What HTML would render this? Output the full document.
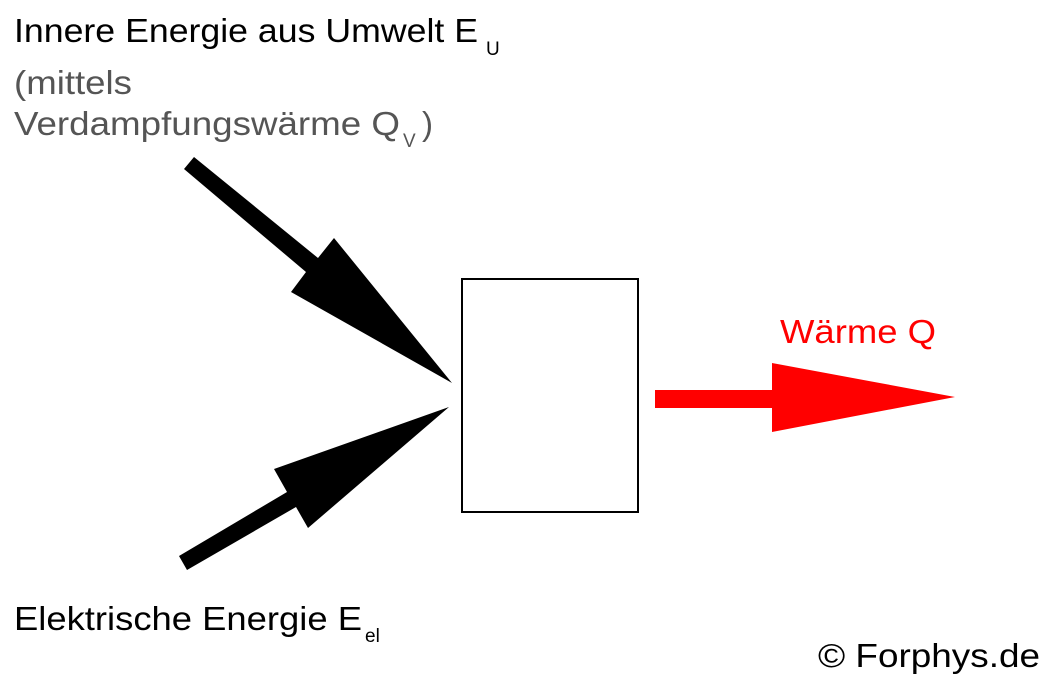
<!DOCTYPE html>
<html><head><meta charset="utf-8"><style>
html,body{margin:0;padding:0;background:#fff;}
body{width:1060px;height:694px;overflow:hidden;position:relative;font-family:"Liberation Sans",Arial,sans-serif;}
</style></head><body>
<svg width="1060" height="694" viewBox="0 0 1060 694" xmlns="http://www.w3.org/2000/svg" style="position:absolute;left:0;top:0">
<g font-family="Liberation Sans, Arial, sans-serif" font-size="33">
<text x="14" y="42" fill="#000" textLength="464" lengthAdjust="spacingAndGlyphs">Innere Energie aus Umwelt E</text>
<text x="486" y="55" fill="#000" font-size="19">U</text>
<text x="14" y="94" fill="#555" textLength="118" lengthAdjust="spacingAndGlyphs">(mittels</text>
<text x="14" y="135" fill="#555" textLength="386" lengthAdjust="spacingAndGlyphs">Verdampfungswärme Q</text>
<text x="403" y="147" fill="#555" font-size="19">V</text>
<text x="422" y="135" fill="#555">)</text>
<text x="780" y="343" fill="#ff0000" textLength="156" lengthAdjust="spacingAndGlyphs">Wärme Q</text>
<text x="14" y="630" fill="#000" textLength="348" lengthAdjust="spacingAndGlyphs">Elektrische Energie E</text>
<text x="365" y="642" fill="#000" font-size="19">el</text>
<text x="818" y="667" fill="#000" textLength="222" lengthAdjust="spacingAndGlyphs">© Forphys.de</text>
</g>
<polygon points="184,169 194,157 318,258 334,238 452,383 291,292 306,272" fill="#000"/>
<polygon points="179,556 187,570 296,507 308,528 449,407 274,469 287,492" fill="#000"/>
<rect x="462" y="279" width="176" height="233" fill="#fff" stroke="#000" stroke-width="2"/>
<polygon points="655,390 772,390 772,363 955,397 772,432 772,408 655,408" fill="#ff0000"/>
</svg>
</body></html>
